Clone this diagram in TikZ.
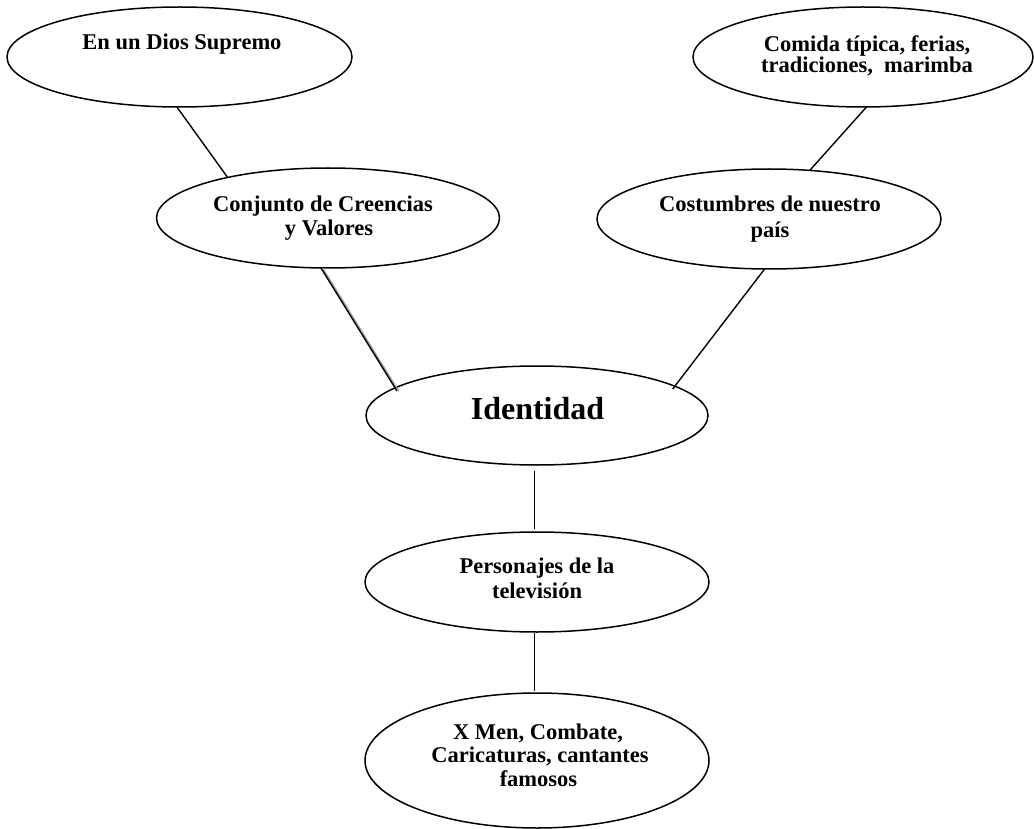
\documentclass[tikz,border=0pt]{standalone}
\usepackage{fontspec}
\setmainfont{Liberation Serif}
\usetikzlibrary{shapes.geometric}
\tikzset{
  bubble/.style={ellipse, draw=black, line width=1.5pt, inner sep=0pt, outer sep=0pt, fill=white},
  txt/.style={anchor=base, inner sep=0pt, font=\fontsize{22.5}{26}\selectfont\bfseries},
  bigtxt/.style={anchor=base, inner sep=0pt, font=\fontsize{32}{38}\selectfont\bfseries},
  link/.style={draw=black, line width=1.4pt}
}
\begin{document}
\begin{tikzpicture}[x=1pt,y=-1pt]
\useasboundingbox (0,0) rectangle (1034,829);
% ellipses
\node[bubble, minimum width=345pt, minimum height=100pt] (e1) at (179.5,57) {};
\node[bubble, minimum width=340pt, minimum height=100pt] (e2) at (863,57) {};
\node[bubble, minimum width=343pt, minimum height=100pt] (e3) at (328,218) {};
\node[bubble, minimum width=344pt, minimum height=100pt] (e4) at (769,219) {};
\node[bubble, minimum width=342pt, minimum height=99pt] (e5) at (537,415.5) {};
\node[bubble, minimum width=344pt, minimum height=100pt] (e6) at (537,582) {};
\node[bubble, minimum width=344pt, minimum height=135pt] (e7) at (537,760.5) {};
% connectors
\draw[link] (e1.-93.9) -- (e3.158);
\draw[link] (e2.-86.6) -- (e4.50);
\draw[draw=gray!75, line width=1.5pt, shorten >=-4pt, transform canvas={xshift=1.5pt}] (e3.-98.7) -- (e5.169.6);
\draw[link, shorten >=-3.5pt] (e3.-98.7) -- (e5.169.6);
\draw[link, shorten >=-3.5pt] (e4.-95.6) -- (e5.12.5);
\draw[link, shorten <=6pt, shorten >=3pt] ([xshift=-2.5pt]e5.south) -- ([xshift=-2.5pt]e6.north);
\draw[link, shorten <=1pt, shorten >=2pt] ([xshift=-2.5pt]e6.south) -- ([xshift=-2.5pt]e7.north);
% texts
\node[txt] (t1) at (182,50) {En un Dios Supremo};
\node[txt] (t2a) at (867,52) {Comida típica, ferias,};
\node[txt] (t2b) at (867,73) {tradiciones,\ \ marimba};
\node[txt] (t3a) at (323,212) {Conjunto de Creencias};
\node[txt] (t3b) at (329,236) {y Valores};
\node[txt] (t4a) at (770,212) {Costumbres de nuestro};
\node[txt] (t4b) at (770,238) {país};
\node[bigtxt] (t5) at (537.5,419) {Identidad};
\node[txt] (t6a) at (537,573) {Personajes de la};
\node[txt] (t6b) at (537,598) {televisión};
\node[txt] (t7a) at (538,739) {X Men, Combate,};
\node[txt] (t7b) at (540,762) {Caricaturas, cantantes};
\node[txt] (t7c) at (538.5,786) {famosos};
\end{tikzpicture}
\end{document}
